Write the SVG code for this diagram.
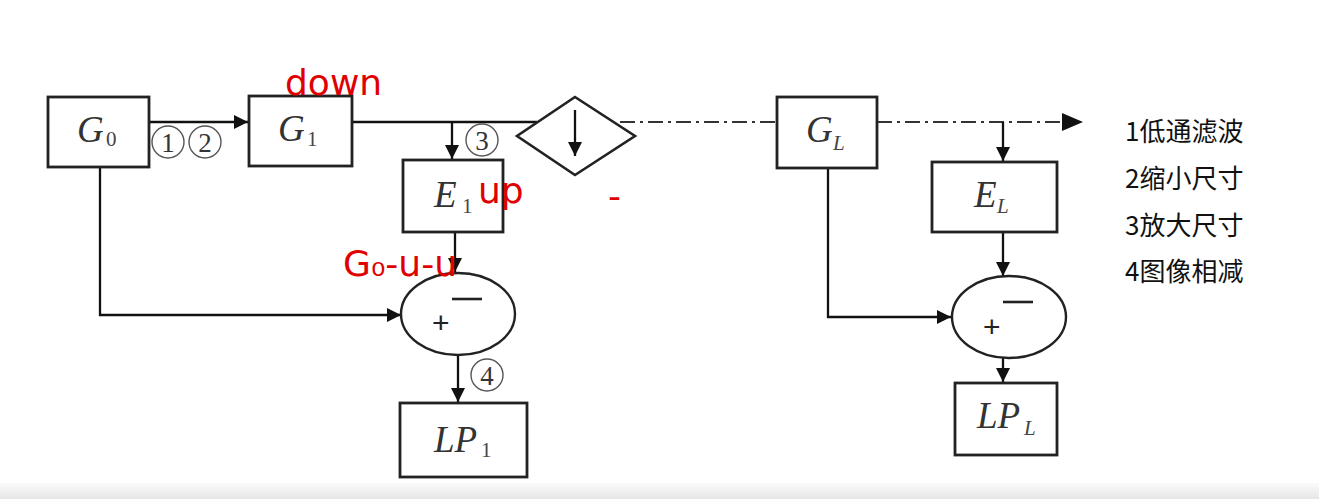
<svg xmlns="http://www.w3.org/2000/svg" width="1319" height="499" viewBox="0 0 1319 499">
<defs>
<linearGradient id="bar" x1="0" y1="0" x2="0" y2="1">
<stop offset="0" stop-color="#fbfbfb"/><stop offset="1" stop-color="#e6e6e6"/>
</linearGradient>
<marker id="ahb" viewBox="0 0 10 10" refX="10" refY="5" markerWidth="20" markerHeight="14" markerUnits="userSpaceOnUse" orient="auto">
<path d="M0,0 L10,5 L0,10 z" fill="#111"/>
</marker>
</defs>
<style>
.box{fill:#fff;stroke:#222;stroke-width:2.8}
.ell{fill:#fff;stroke:#222;stroke-width:2.4}
.ln{fill:none;stroke:#111;stroke-width:2.3}
.dd{fill:none;stroke:#333;stroke-width:2.2;stroke-dasharray:15 5 3 5}
.m{font-family:"Liberation Serif",serif;font-style:italic;fill:#333;font-size:37px}
.s{font-family:"Liberation Serif",serif;fill:#444;font-size:21px}
.si{font-family:"Liberation Serif",serif;font-style:italic;fill:#444;font-size:21px}
.op{font-family:"Liberation Sans",sans-serif;fill:#222;font-size:30px}
.c{fill:none;stroke:#555;stroke-width:1.4}
.cn{font-family:"Liberation Serif",serif;fill:#333;font-size:27px;text-anchor:middle}
.lg{font-family:"Noto Sans CJK SC","Microsoft YaHei",sans-serif;fill:#111;font-size:26px}
.redt{font-family:"DejaVu Sans",sans-serif;fill:#e00000;font-size:36px}
</style>
<rect x="0" y="0" width="1319" height="499" fill="#fff"/>
<rect x="0" y="483" width="1319" height="16" fill="url(#bar)"/>

<g id="connectors">
<line class="ln" x1="149" y1="122" x2="248" y2="122" marker-end="url(#ahb)"/>
<line class="ln" x1="352" y1="122" x2="537" y2="122"/>
<line class="ln" x1="452" y1="122" x2="452" y2="159" marker-end="url(#ahb)"/>
<line class="dd" x1="620" y1="122" x2="777" y2="122"/>
<line class="dd" x1="877" y1="122" x2="1075" y2="122"/>
<path d="M1062,113 L1083,122 L1062,131 z" fill="#111"/>
<line class="ln" x1="1003" y1="122" x2="1003" y2="161" marker-end="url(#ahb)"/>
<polyline class="ln" points="100,168 100,315 401,315" marker-end="url(#ahb)"/>
<line class="ln" x1="455" y1="232" x2="455" y2="272" marker-end="url(#ahb)"/>
<line class="ln" x1="458" y1="355" x2="458" y2="402" marker-end="url(#ahb)"/>
<polyline class="ln" points="828,168 828,317 951,317" marker-end="url(#ahb)"/>
<line class="ln" x1="1003" y1="232" x2="1003" y2="276" marker-end="url(#ahb)"/>
<line class="ln" x1="1003" y1="358" x2="1003" y2="382" marker-end="url(#ahb)"/>
</g>

<g id="G0">
<rect class="box" x="48" y="97" width="101" height="70"/>
<text x="77" y="142"><tspan class="m">G</tspan><tspan class="s" x="106" y="146">0</tspan></text>
</g>
<g id="G1">
<rect class="box" x="249" y="96" width="103" height="70"/>
<text x="278" y="141"><tspan class="m">G</tspan><tspan class="s" x="307" y="146">1</tspan></text>
</g>
<g id="down-sample">
<polygon points="575,97 635,136 575,175 517,136" fill="#fff" stroke="#222" stroke-width="2.6"/>
<line class="ln" x1="575" y1="110" x2="575" y2="156" marker-end="url(#ahb)"/>
</g>
<g id="E1">
<rect class="box" x="403" y="160" width="100" height="72"/>
<text x="434" y="207"><tspan class="m">E</tspan><tspan class="s" x="462" y="213">1</tspan></text>
</g>
<g id="sub1">
<ellipse class="ell" cx="458" cy="314" rx="57" ry="41"/>
<text class="op" x="432" y="333">+</text>
<line x1="452" y1="299" x2="482" y2="299" stroke="#222" stroke-width="2.6"/>
</g>
<g id="LP1">
<rect class="box" x="400" y="403" width="127" height="74"/>
<text x="434" y="452"><tspan class="m">LP</tspan><tspan class="s" x="481" y="457">1</tspan></text>
</g>
<g id="GL">
<rect class="box" x="777" y="97" width="100" height="71"/>
<text x="806" y="142"><tspan class="m">G</tspan><tspan class="si" x="833" y="150">L</tspan></text>
</g>
<g id="EL">
<rect class="box" x="932" y="162" width="125" height="70"/>
<text x="974" y="207"><tspan class="m">E</tspan><tspan class="si" x="997" y="213">L</tspan></text>
</g>
<g id="subL">
<ellipse class="ell" cx="1009" cy="317" rx="57" ry="41"/>
<text class="op" x="983" y="337">+</text>
<line x1="1003" y1="302" x2="1033" y2="302" stroke="#222" stroke-width="2.6"/>
</g>
<g id="LPL">
<rect class="box" x="955" y="383" width="102" height="72"/>
<text x="977" y="428"><tspan class="m">LP</tspan><tspan class="si" x="1024" y="435">L</tspan></text>
</g>

<g id="step-labels">
<circle class="c" cx="168" cy="142" r="16"/><text class="cn" x="168" y="152">1</text>
<circle class="c" cx="205" cy="142" r="16"/><text class="cn" x="205" y="152">2</text>
<circle class="c" cx="482" cy="140" r="16"/><text class="cn" x="482" y="150">3</text>
<circle class="c" cx="487" cy="375" r="16"/><text class="cn" x="487" y="385">4</text>
</g>

<g id="legend">
<text class="lg" x="1125" y="141">1低通滤波</text>
<text class="lg" x="1125" y="188">2缩小尺寸</text>
<text class="lg" x="1125" y="235">3放大尺寸</text>
<text class="lg" x="1125" y="281">4图像相减</text>
</g>

<g id="annotations">
<text class="redt" x="285" y="95">down</text>
<text class="redt" x="478" y="203">up</text>
<text class="redt" x="608" y="208">-</text>
<text class="redt" x="343" y="276" font-size="28">G₀-u-u</text>
</g>
</svg>
